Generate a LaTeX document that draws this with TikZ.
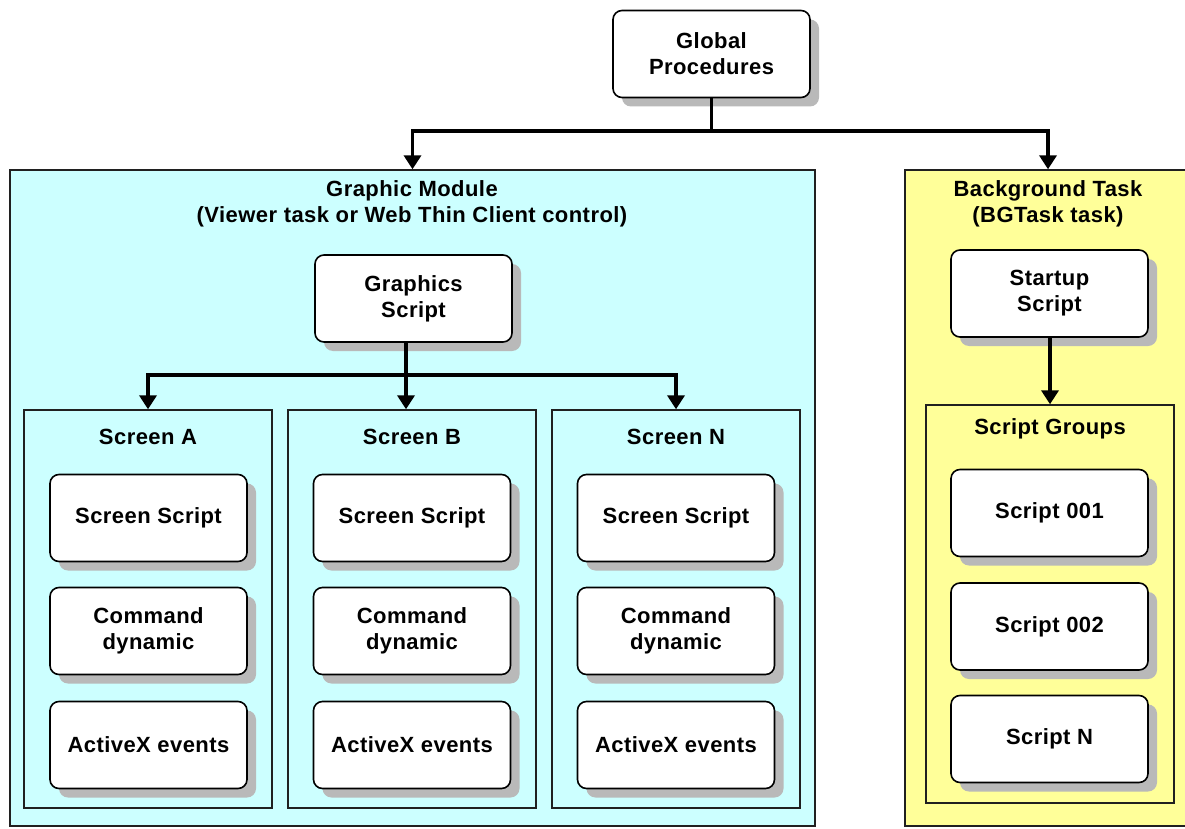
\documentclass[tikz,border=0pt]{standalone}
\usepackage{fontspec}
\setmainfont{Liberation Sans}[LetterSpace=2]
\usetikzlibrary{shadows,arrows.meta}
\definecolor{cyanbg}{HTML}{CCFFFF}
\definecolor{yellowbg}{HTML}{FFFF99}
\definecolor{edge}{HTML}{202020}
\begin{document}
\begin{tikzpicture}[x=1pt,y=-1pt,
  txt/.style={font=\fontsize{22pt}{26pt}\selectfont\bfseries, align=center, text=black},
  rbox/.style={txt, draw=black, line width=1.6pt, fill=white, rounded corners=9pt,
    minimum width=197pt, minimum height=87pt, inner sep=0pt,
    drop shadow={shadow xshift=9pt, shadow yshift=-9pt, fill=gray!55, opacity=1}},
  region/.style={draw=edge, line width=1.4pt, inner sep=0pt},
  title/.style={txt, inner sep=0pt},
  conn/.style={line width=3.6pt, draw=black},
  arr/.style={conn, -{Triangle[width=17pt,length=14pt]}}
]
\useasboundingbox (0,0) rectangle (1185,829);
\fill[white] (0,0) rectangle (1185,829);

% top node
\node[rbox] (gp) at (711.5,54) {Global\\Procedures};

% Graphic module region
\node[region, fill=cyanbg, minimum width=805pt, minimum height=656pt] (gm) at (412.5,498) {};
\node[title] (gmt) at (412,204) {Graphic Module\\(Viewer task or Web Thin Client control)};

% Background task region
\node[region, fill=yellowbg, minimum width=286pt, minimum height=656pt] (bg) at (1048,498) {};
\node[title] (bgt) at (1048,204) {Background Task\\(BGTask task)};

% Graphics script
\node[rbox] (gs) at (413.5,298.5) {Graphics\\Script};

% screens
\node[region, minimum width=248pt, minimum height=398pt] (sa) at (148,609) {};
\node[region, minimum width=248pt, minimum height=398pt] (sb) at (412,609) {};
\node[region, minimum width=248pt, minimum height=398pt] (sn) at (676,609) {};
\node[title] (sat) at (148,437) {Screen A};
\node[title] (sbt) at (412,437) {Screen B};
\node[title] (snt) at (676,437) {Screen N};

\node[rbox] (a1) at (148.5,518) {Screen Script};
\node[rbox] (a2) at (148.5,631) {Command\\dynamic};
\node[rbox] (a3) at (148.5,745) {ActiveX events};
\node[rbox] (b1) at (412,518) {Screen Script};
\node[rbox] (b2) at (412,631) {Command\\dynamic};
\node[rbox] (b3) at (412,745) {ActiveX events};
\node[rbox] (n1) at (676,518) {Screen Script};
\node[rbox] (n2) at (676,631) {Command\\dynamic};
\node[rbox] (n3) at (676,745) {ActiveX events};

% background task contents
\node[rbox] (ss) at (1049.5,293.5) {Startup\\Script};
\node[region, minimum width=248pt, minimum height=398pt] (sg) at (1050,604) {};
\node[title] (sgt) at (1050,429) {Script Groups};
\node[rbox] (s1) at (1049.5,513) {Script 001};
\node[rbox] (s2) at (1049.5,626.5) {Script 002};
\node[rbox] (s3) at (1049.5,739) {Script N};

% connectors
\coordinate (j1) at (711.5,131);
\coordinate (j2) at (406,375);
\draw[conn] (gp.south) -- (j1);
\draw[arr] (j1) -| (gm.north);
\draw[arr] (j1) -| (bg.north);
\draw[conn] (gs.south -| j2) -- (j2);
\draw[arr] (j2) -| (sa.north);
\draw[arr] (j2) -- (j2 |- sb.north);
\draw[arr] (j2) -| (sn.north);
\draw[arr] (ss.south -| sg.north) -- (sg.north);
\end{tikzpicture}
\end{document}
